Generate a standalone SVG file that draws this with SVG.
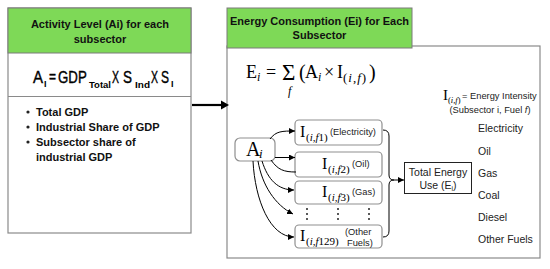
<svg xmlns="http://www.w3.org/2000/svg" width="550" height="269" viewBox="0 0 550 269">
<style>
.hdr{font-family:"Liberation Sans",Arial,sans-serif;font-weight:bold;font-size:11px;fill:#111;text-anchor:middle}
.bul{font-family:"Liberation Sans",Arial,sans-serif;font-weight:bold;font-size:11px;fill:#111}
.fm{font-family:"Liberation Sans",Arial,sans-serif;font-size:17px;fill:#000;stroke:#000;stroke-width:0.4}
.fsub{font-family:"Liberation Sans",Arial,sans-serif;font-weight:bold;font-size:9px;fill:#000}
.ser{font-family:"Liberation Serif","Times New Roman",serif;fill:#000}
.it{font-style:italic}
.lbl{font-family:"Liberation Sans",Arial,sans-serif;font-size:10.5px;fill:#222}
.sm{font-family:"Liberation Sans",Arial,sans-serif;font-size:9.3px;fill:#222}
.box{fill:#fff;stroke:#8a8a8a;stroke-width:1.2}
.green{fill:#7ed957;stroke:#7a7a7a;stroke-width:1}
.ibox{fill:#fff;stroke:#8f8f8f;stroke-width:1.2}
.con{fill:none;stroke:#000;stroke-width:1}
.dot{fill:#222}
</style>
<defs>
<marker id="ah" markerUnits="userSpaceOnUse" markerWidth="6" markerHeight="6" refX="6" refY="3" orient="auto">
<path d="M0,0 L6,3 L0,6 z" fill="#000"/>
</marker>
</defs>

<g id="activity-level">
<rect class="box" x="8" y="8" width="183" height="225"/>
<rect class="green" x="8" y="8" width="183" height="45"/>
<line x1="8" y1="96.5" x2="191" y2="96.5" stroke="#8a8a8a" stroke-width="1.2"/>
<text class="hdr" x="100" y="28">Activity Level (Ai) for each</text>
<text class="hdr" x="100" y="43">subsector</text>
<text class="fm" x="33" y="83" textLength="10" lengthAdjust="spacingAndGlyphs">A</text>
<text class="fsub" x="44" y="87" font-size="7">I</text>
<text class="fm" x="49" y="82" font-size="14" textLength="7" lengthAdjust="spacingAndGlyphs">=</text>
<text class="fm" transform="translate(58,83) scale(0.78,1)" x="0" y="0">GDP</text>
<text class="fsub" x="89" y="88" textLength="22" lengthAdjust="spacingAndGlyphs">Total</text>
<text class="fm" x="112" y="83" font-size="13" textLength="7" lengthAdjust="spacingAndGlyphs">X</text>
<text class="fm" x="123" y="83" textLength="9" lengthAdjust="spacingAndGlyphs">S</text>
<text class="fsub" x="135" y="88" textLength="15" lengthAdjust="spacingAndGlyphs">Ind</text>
<text class="fm" x="151" y="83" font-size="13" textLength="7" lengthAdjust="spacingAndGlyphs">X</text>
<text class="fm" x="161" y="83" textLength="8" lengthAdjust="spacingAndGlyphs">S</text>
<text class="fsub" x="171" y="87" font-size="7">I</text>
<circle class="dot" cx="28" cy="112" r="1.6"/>
<circle class="dot" cx="28" cy="127" r="1.6"/>
<circle class="dot" cx="28" cy="142" r="1.6"/>
<text class="bul" x="36" y="116">Total GDP</text>
<text class="bul" x="36" y="131">Industrial Share of GDP</text>
<text class="bul" x="36" y="146">Subsector share of</text>
<text class="bul" x="36" y="161">industrial GDP</text>
</g>

<g id="energy-consumption">
<rect class="box" x="227" y="46" width="313" height="212"/>
<rect class="green" x="227" y="8" width="185" height="40"/>
<text class="hdr" x="319.5" y="25">Energy Consumption (Ei) for Each</text>
<text class="hdr" x="319.5" y="39">Subsector</text>
<text class="ser" font-size="18" x="246" y="78">E</text>
<text class="ser it" font-size="12" x="257" y="81">i</text>
<text class="ser" font-size="18" x="266" y="78">=</text>
<text class="ser" font-size="23" x="282" y="80">Σ</text>
<text class="ser it" font-size="12" x="288" y="95">f</text>
<text class="ser" font-size="20" x="299" y="79">(</text>
<text class="ser" font-size="18" x="305" y="78">A</text>
<text class="ser it" font-size="12" x="318" y="81">i</text>
<text class="ser" font-size="18" x="324" y="78">×</text>
<text class="ser" font-size="18" x="337" y="78">I</text>
<text class="ser" font-size="13" x="343" y="82" letter-spacing="1">(<tspan class="it">i</tspan>,<tspan class="it">f</tspan>)</text>
<text class="ser" font-size="20" x="369" y="79">)</text>
<text class="ser" font-size="15" x="443" y="100">I</text>
<text class="ser" font-size="8.5" x="448" y="103">(<tspan class="it">i</tspan>,<tspan class="it">f</tspan>)</text>
<text class="sm" x="462" y="99" font-size="9">= Energy Intensity</text>
<text class="sm" x="490" y="113" text-anchor="middle" font-size="9">(Subsector i, Fuel <tspan class="it">f</tspan>)</text>
<text class="lbl" x="478" y="132">Electricity</text>
<text class="lbl" x="478" y="155">Oil</text>
<text class="lbl" x="478" y="177">Gas</text>
<text class="lbl" x="478" y="199">Coal</text>
<text class="lbl" x="478" y="221">Diesel</text>
<text class="lbl" x="478" y="243">Other Fuels</text>
</g>

<g id="activity-ai">
<rect class="ibox" x="235" y="138" width="40" height="23" rx="5"/>
<text class="ser" font-size="20" x="246" y="156">A</text>
<text class="ser it" font-size="13" x="259" y="158">i</text>
</g>

<g id="intensity-f1">
<rect class="ibox" x="295" y="120" width="87" height="25" rx="4"/>
<text class="ser" font-size="16" x="300" y="137">I</text>
<text class="ser" font-size="11" x="306" y="141">(<tspan class="it">i</tspan>,<tspan class="it">f</tspan>1)</text>
<text class="sm" x="330" y="135">(Electricity)</text>
</g>
<g id="intensity-f2">
<rect class="ibox" x="295" y="152" width="87" height="25" rx="4"/>
<text class="ser" font-size="16" x="322" y="169">I</text>
<text class="ser" font-size="11" x="328" y="173">(<tspan class="it">i</tspan>,<tspan class="it">f</tspan>2)</text>
<text class="sm" x="352" y="167">(Oil)</text>
</g>
<g id="intensity-f3">
<rect class="ibox" x="295" y="181" width="87" height="23" rx="4"/>
<text class="ser" font-size="16" x="322" y="197">I</text>
<text class="ser" font-size="11" x="328" y="201">(<tspan class="it">i</tspan>,<tspan class="it">f</tspan>3)</text>
<text class="sm" x="352" y="195">(Gas)</text>
</g>
<g id="intensity-ellipsis">
<circle class="dot" cx="307" cy="209" r="1"/><circle class="dot" cx="307" cy="214" r="1"/><circle class="dot" cx="307" cy="219" r="1"/>
<circle class="dot" cx="338" cy="209" r="1"/><circle class="dot" cx="338" cy="214" r="1"/><circle class="dot" cx="338" cy="219" r="1"/>
<circle class="dot" cx="369" cy="209" r="1"/><circle class="dot" cx="369" cy="214" r="1"/><circle class="dot" cx="369" cy="219" r="1"/>
</g>
<g id="intensity-f129">
<rect class="ibox" x="295" y="225" width="87" height="23" rx="4"/>
<text class="ser" font-size="16" x="300" y="241">I</text>
<text class="ser" font-size="11" x="306" y="245">(<tspan class="it">i</tspan>,<tspan class="it">f</tspan>129)</text>
<text class="sm" x="345" y="235">(Other</text>
<text class="sm" x="347" y="246">Fuels)</text>
</g>

<g id="total-energy">
<rect x="404.5" y="162.5" width="67" height="31" fill="#fff" stroke="#222" stroke-width="1"/>
<text class="lbl" x="438" y="176" text-anchor="middle">Total Energy</text>
<text class="lbl" x="438" y="189" text-anchor="middle">Use (E<tspan font-size="7" dy="2">i</tspan><tspan dy="-2">)</tspan></text>
</g>

<g id="connectors">
<line x1="192" y1="105" x2="222" y2="105" stroke="#000" stroke-width="2.2"/>
<path d="M221,100.5 L229,105 L221,109.5 z" fill="#000"/>
<path class="con" d="M270,139 C276,131 282,131 295,131" marker-end="url(#ah)"/>
<path class="con" d="M275,157.5 L295,157.5" marker-end="url(#ah)"/>
<path class="con" d="M271,160 C278,170 284,172 296,172"/>
<path class="con" d="M262,161 C268,180 278,190 294,190" marker-end="url(#ah)"/>
<path class="con" d="M258,161 C262,185 275,205 293,214" marker-end="url(#ah)"/>
<path class="con" d="M253,161 C255,200 270,237 294,237" marker-end="url(#ah)"/>
<path class="con" d="M383,130 Q389,130 389,136 L389,175 Q389,180 394,180 Q389,180 389,185 L389,231 Q389,237 383,237"/>
<path class="con" d="M394,180 L404,180" marker-end="url(#ah)"/>
</g>
</svg>
